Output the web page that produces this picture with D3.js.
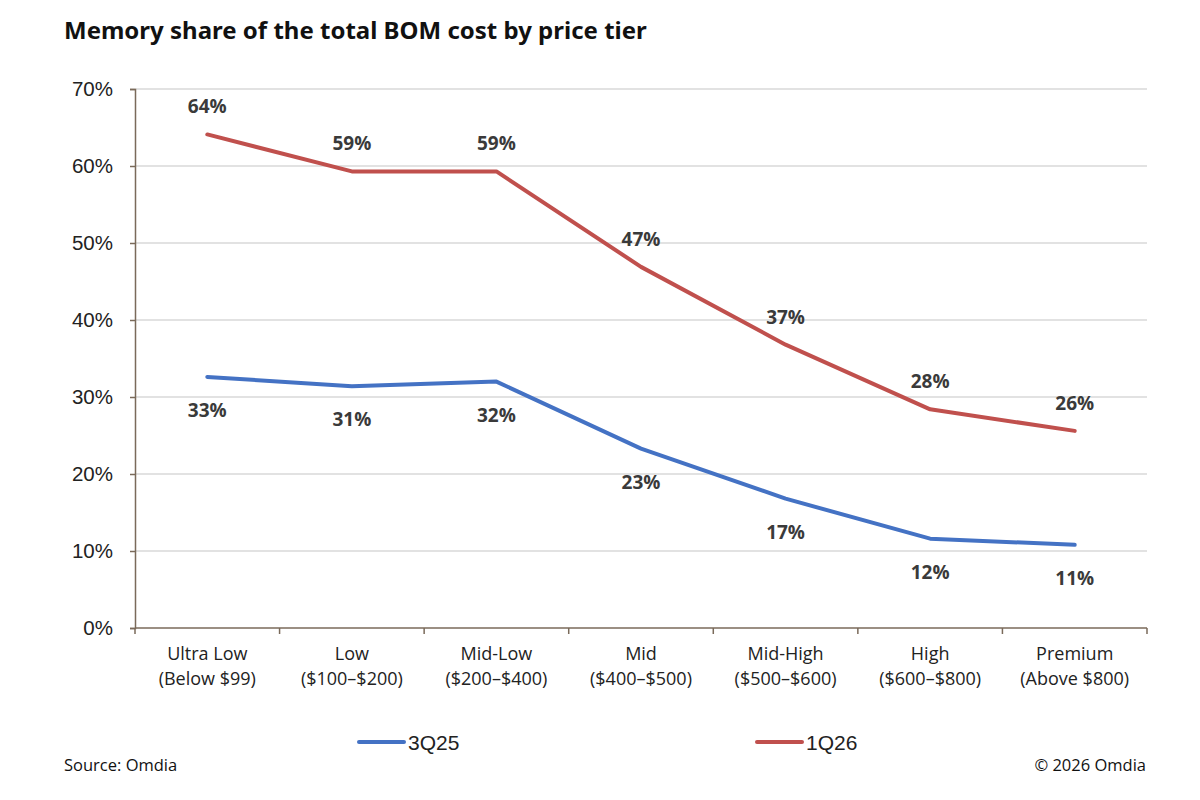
<!DOCTYPE html>
<meta charset="utf-8">
<style>
  body { margin: 0; background: #fff; }
  text { font-family: "Liberation Sans", Arial, sans-serif; }
</style>
<script src="https://d3js.org/d3.v7.min.js"></script>
<div id="chart"></div>
<script>

// categories and series
var tiers = ["Ultra Low|(Below $99)", "Low|($100–$200)", "Mid-Low|($200–$400)", "Mid|($400–$500)",
             "Mid-High|($500–$600)", "High|($600–$800)", "Premium|(Above $800)"];
var q3_25 = [32.6, 31.4, 32.0, 23.3, 16.8, 11.6, 10.8];
var q1_26 = [64.1, 59.3, 59.3, 46.9, 36.8, 28.4, 25.6];
var yTicks = [0, 10, 20, 30, 40, 50, 60, 70];

var W = 1200, H = 800;
var margin = {top: 89, right: 53, bottom: 172, left: 135},
    width = W - margin.left - margin.right,
    height = H - margin.top - margin.bottom;

var svg = d3.select("#chart").append("svg")
    .attr("width", W).attr("height", H);

// title
svg.append("text")
  .attr("x", 64).attr("y", 39)
  .style("font-family", "'Noto Sans', sans-serif")
  .style("font-weight", "bold")
  .style("font-size", "24px")
  .attr("fill", "#111")
  .text("Memory share of the total BOM cost by price tier");

var g = svg.append("g")
  .attr("transform", "translate(" + margin.left + "," + margin.top + ")");

var x = d3.scaleBand().domain(tiers).range([0, width]);
var y = d3.scaleLinear().domain([0, 70]).range([height, 0]);

// gridlines
g.append("g").selectAll("line")
  .data(yTicks.slice(1))
  .enter().append("line")
    .attr("x1", 0).attr("x2", width)
    .attr("y1", function(d) { return y(d); })
    .attr("y2", function(d) { return y(d); })
    .attr("stroke", "#d9d9d9").attr("stroke-width", 1.5);

// y axis
var yAxis = g.append("g")
  .call(d3.axisLeft(y).tickValues(yTicks).tickSize(5).tickPadding(17)
    .tickFormat(function(d) { return d + "%"; }));
yAxis.select(".domain").attr("stroke", "#7a6a5a").attr("stroke-width", 1.5);
yAxis.selectAll(".tick line").attr("stroke", "#7a6a5a").attr("stroke-width", 1.5);
yAxis.selectAll("text").style("font-size", "20.5px").attr("fill", "#222")
  .style("font-family", "'Liberation Sans', Arial, sans-serif");

// x axis (ticks at band edges)
var xg = g.append("g").attr("transform", "translate(0," + height + ")");
xg.append("line").attr("x1", 0).attr("x2", width)
  .attr("stroke", "#7a6a5a").attr("stroke-width", 1.5);
xg.selectAll(".edge")
  .data(tiers.concat(["end"]))
  .enter().append("line")
    .attr("x1", function(d, i) { return i < tiers.length ? x(d) : width; })
    .attr("x2", function(d, i) { return i < tiers.length ? x(d) : width; })
    .attr("y1", 0).attr("y2", 6)
    .attr("stroke", "#7a6a5a").attr("stroke-width", 1.5);
var lbl = xg.selectAll(".lbl")
  .data(tiers)
  .enter().append("text")
    .attr("x", function(d) { return x(d) + x.bandwidth() / 2; })
    .attr("text-anchor", "middle")
    .style("font-family", "'Open Sans', sans-serif")
    .style("font-size", "18px")
    .attr("fill", "#222");
lbl.append("tspan").attr("x", function(d) { return x(d) + x.bandwidth() / 2; })
  .attr("y", 32).text(function(d) { return d.split("|")[0]; });
lbl.append("tspan").attr("x", function(d) { return x(d) + x.bandwidth() / 2; })
  .attr("y", 57).text(function(d) { return d.split("|")[1]; });

var series = [
  {name: "3Q25", values: q3_25, color: "#4472c4", dy: 40},
  {name: "1Q26", values: q1_26, color: "#c0504d", dy: -21}
];

var line = d3.line()
  .x(function(d, i) { return x(tiers[i]) + x.bandwidth() / 2; })
  .y(function(d) { return y(d); });

series.forEach(function(s) {
  g.append("path")
    .datum(s.values)
    .attr("fill", "none")
    .attr("stroke", s.color)
    .attr("stroke-width", 4)
    .attr("stroke-linejoin", "round")
    .attr("stroke-linecap", "round")
    .attr("d", line);

  g.selectAll(null)
    .data(s.values)
    .enter().append("text")
      .attr("x", function(d, i) { return x(tiers[i]) + x.bandwidth() / 2; })
      .attr("y", function(d) { return y(d) + s.dy; })
      .attr("text-anchor", "middle")
      .style("font-family", "'Open Sans', sans-serif")
      .style("font-weight", "bold")
      .style("font-size", "19px")
      .attr("fill", "#3a3a3a")
      .text(function(d) { return Math.round(d) + "%"; });
});

// legend
var legX = [359, 757];
series.forEach(function(s, i) {
  svg.append("line")
    .attr("x1", legX[i]).attr("x2", legX[i] + 45)
    .attr("y1", 742).attr("y2", 742)
    .attr("stroke", s.color).attr("stroke-width", 4).attr("stroke-linecap", "round");
  svg.append("text")
    .attr("x", legX[i] + 49).attr("y", 749.5)
    .style("font-family", "'Liberation Sans', Arial, sans-serif")
    .style("font-size", "21px")
    .attr("fill", "#222")
    .text(s.name);
});

// footer
svg.append("text").attr("x", 64).attr("y", 771)
  .style("font-family", "'Open Sans', sans-serif").style("font-size", "16.5px")
  .attr("fill", "#111").text("Source: Omdia");
svg.append("text").attr("x", 1146).attr("y", 771).attr("text-anchor", "end")
  .style("font-family", "'Open Sans', sans-serif").style("font-size", "16.5px")
  .attr("fill", "#111").text("© 2026 Omdia");

</script>
